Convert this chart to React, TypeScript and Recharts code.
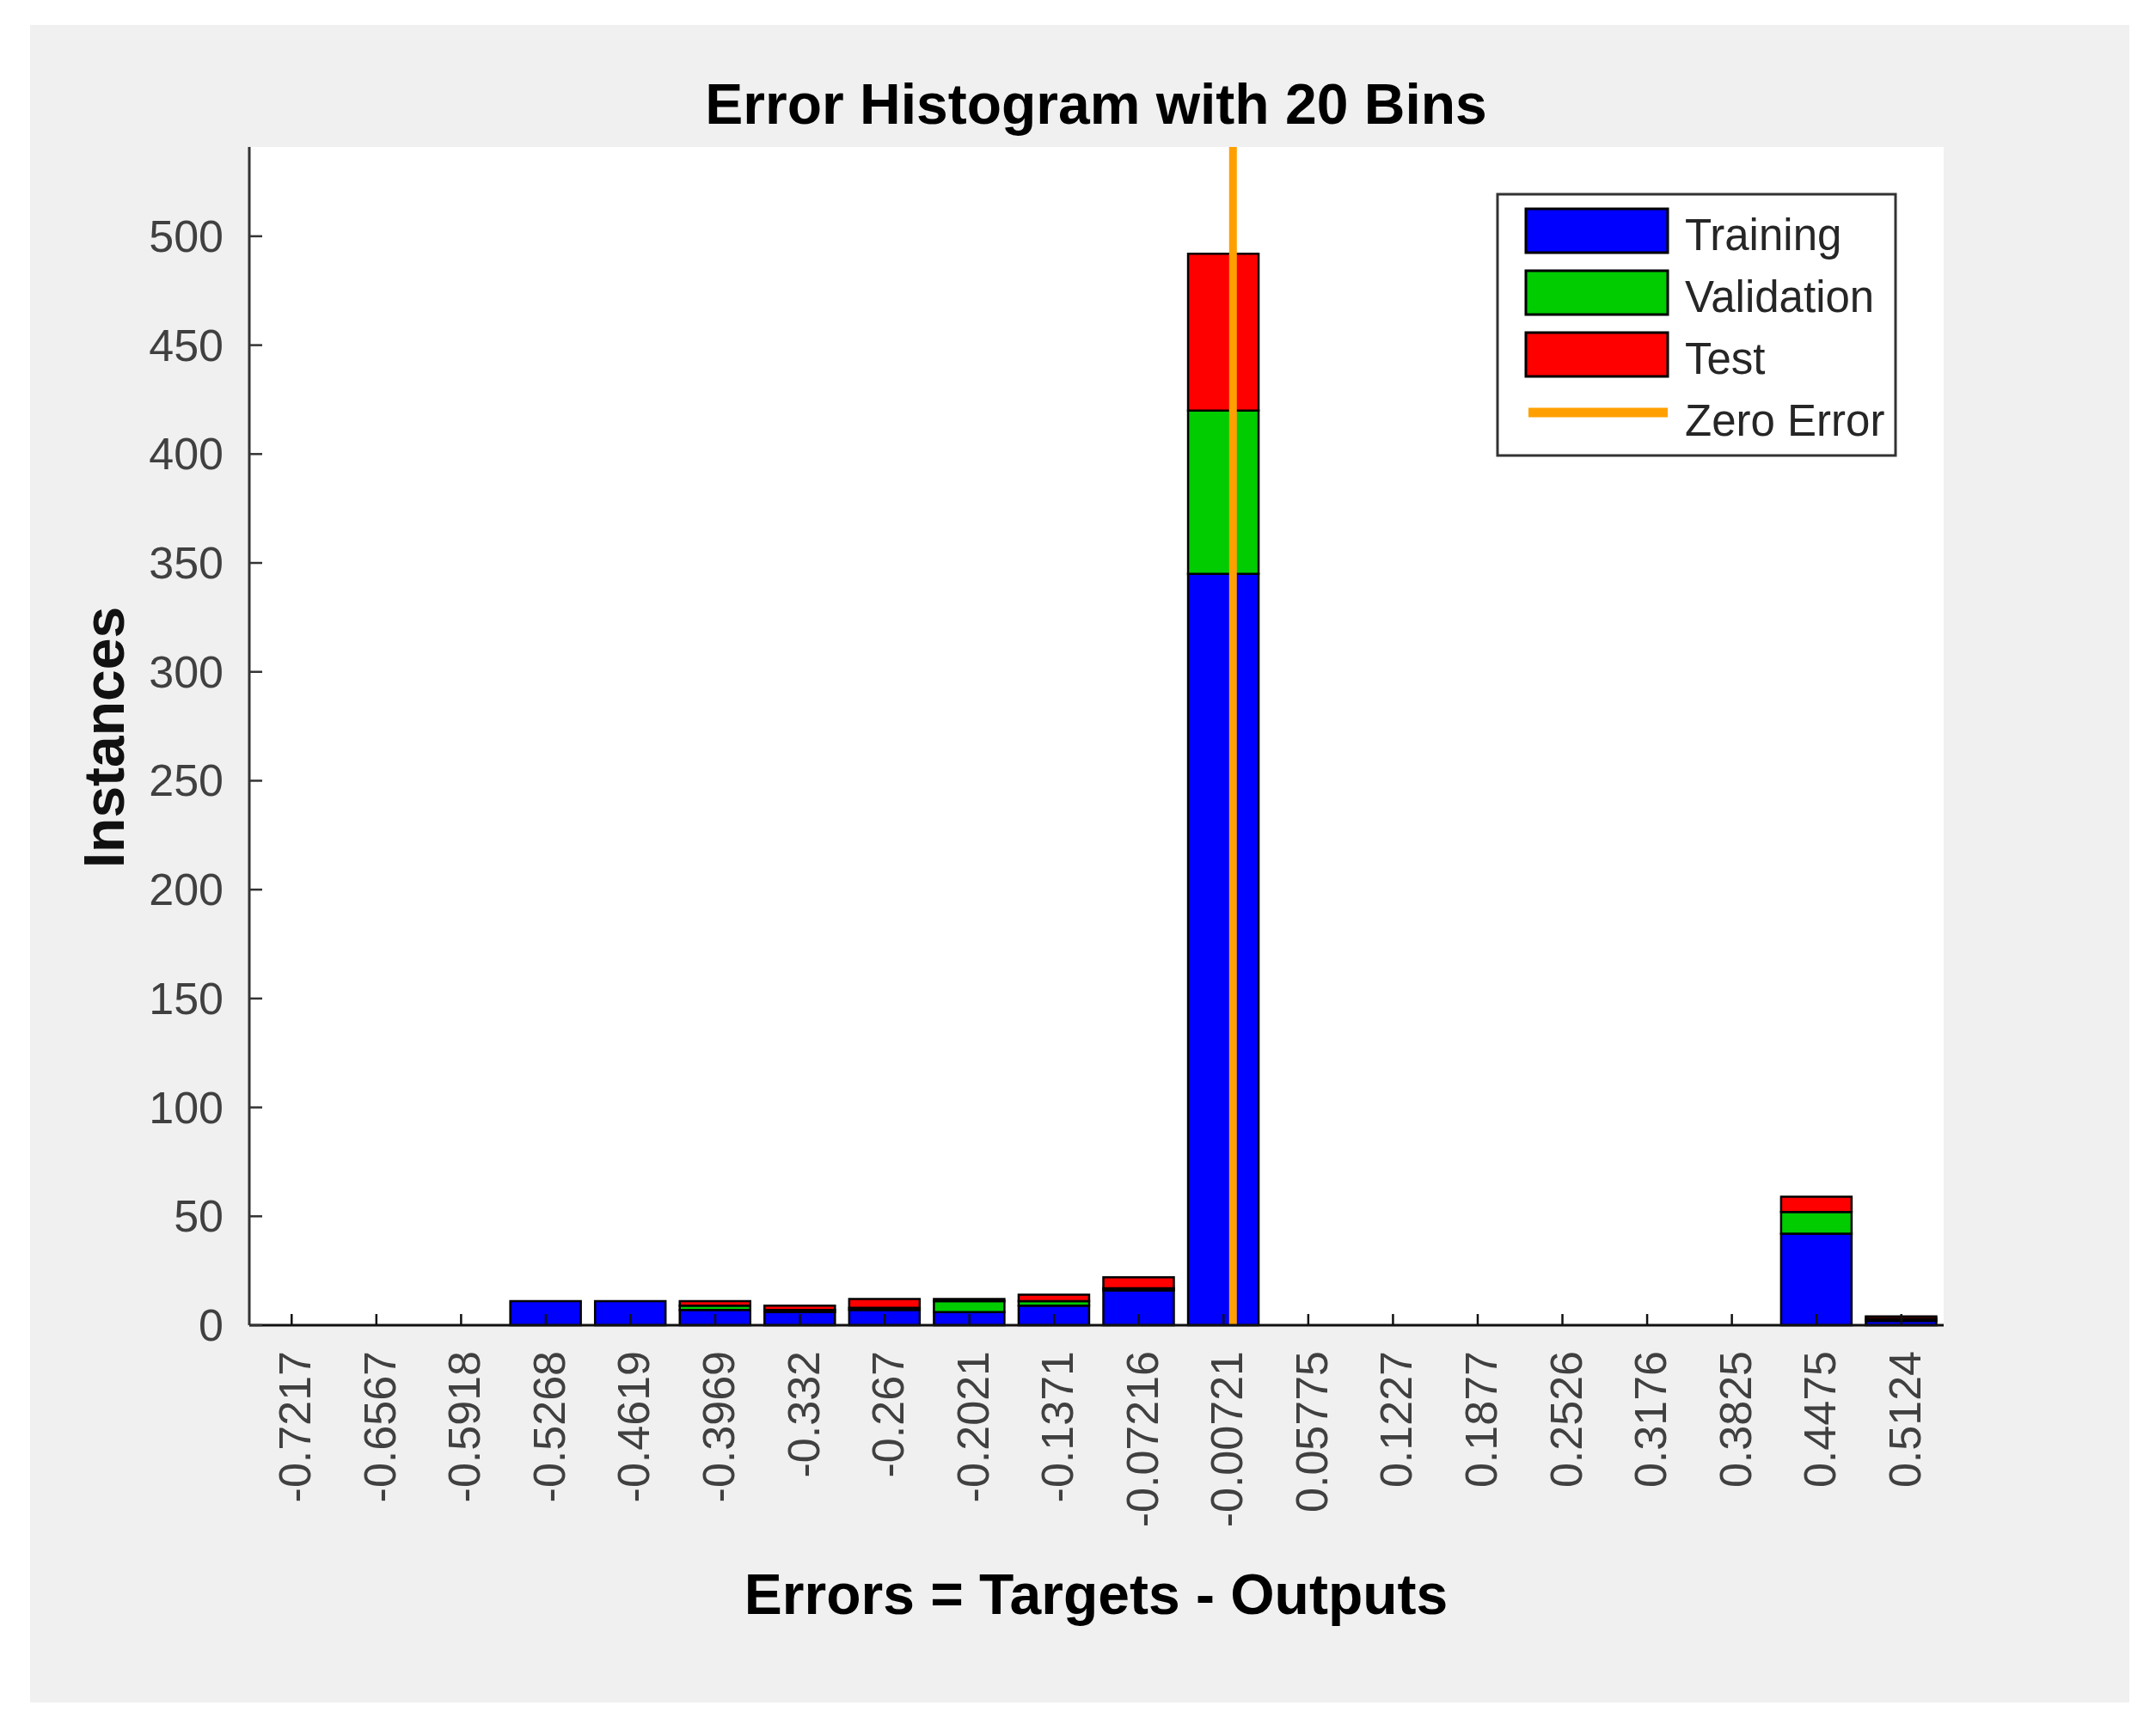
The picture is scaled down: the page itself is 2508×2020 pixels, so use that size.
import React from 'react';
import { BarChart, Bar, XAxis, YAxis, ReferenceLine } from 'recharts';

// bin centres as printed under the x axis
const BIN_LABELS = [
  '-0.7217', '-0.6567', '-0.5918', '-0.5268', '-0.4619', '-0.3969', '-0.332',
  '-0.267', '-0.2021', '-0.1371', '-0.07216', '-0.00721', '0.05775', '0.1227',
  '0.1877', '0.2526', '0.3176', '0.3825', '0.4475', '0.5124',
];

const TRAINING = [0, 0, 0, 11, 11, 7, 6, 7, 6, 9, 16, 345, 0, 0, 0, 0, 0, 0, 42, 2];
const VALIDATION = [0, 0, 0, 0, 0, 2, 1, 1, 5, 2, 1, 75, 0, 0, 0, 0, 0, 0, 10, 1];
const TEST = [0, 0, 0, 0, 0, 2, 2, 4, 1, 3, 5, 72, 0, 0, 0, 0, 0, 0, 7, 1];

const Y_TICKS = [0, 50, 100, 150, 200, 250, 300, 350, 400, 450, 500];
const Y_MAX = 541;
const ZERO_ERROR = 0;

const FONT = '"Liberation Sans", Arial, Helvetica, sans-serif';

const COLORS = {
  training: '#0000ff',
  validation: '#00cc00',
  test: '#ff0000',
  zero: '#ffa000',
};

const data = BIN_LABELS.map((label, i) => ({
  bin: label,
  center: Number(label),
  training: TRAINING[i],
  validation: VALIDATION[i],
  test: TEST[i],
}));

// numeric extent of the bins, used only to place the zero-error line
const centers = data.map(d => d.center);
const halfBin = (centers[centers.length - 1] - centers[0]) / (centers.length - 1) / 2;
const X_DOMAIN: [number, number] = [centers[0] - halfBin, centers[centers.length - 1] + halfBin];

function YTick({ x, y, payload }: any) {
  return (
    <g>
      <line x1={x} y1={y} x2={x + 15} y2={y} stroke="#333" strokeWidth={2.5} />
      <text x={x - 30} y={y} dy={18} textAnchor="end" fontSize={52} fill="#404040" fontFamily={FONT}>
        {payload.value}
      </text>
    </g>
  );
}

function XTick({ x, y, payload }: any) {
  return (
    <g>
      <line x1={x} y1={y} x2={x} y2={y - 13} stroke="#111" strokeWidth={2.5} />
      <text
        x={x + 22}
        y={y + 30}
        textAnchor="end"
        fontSize={52}
        fill="#404040"
        fontFamily={FONT}
        transform={`rotate(-90, ${x + 22}, ${y + 30})`}
      >
        {payload.value}
      </text>
    </g>
  );
}

const LEGEND_ITEMS = [
  { label: 'Training', color: COLORS.training, kind: 'box' },
  { label: 'Validation', color: COLORS.validation, kind: 'box' },
  { label: 'Test', color: COLORS.test, kind: 'box' },
  { label: 'Zero Error', color: COLORS.zero, kind: 'line' },
];

export default function App() {
  return (
    <div style={{ position: 'absolute', left: 0, top: 0, width: 2508, height: 2020, background: '#fff', fontFamily: FONT }}>
      {/* grey figure panel */}
      <div style={{ position: 'absolute', left: 35, top: 29, width: 2442, height: 1952, background: '#f0f0f0' }} />
      {/* white axes area */}
      <div style={{ position: 'absolute', left: 290, top: 171, width: 1971, height: 1371, background: '#fff' }} />

      <div style={{ position: 'absolute', left: 0, top: 0 }}>
        <BarChart
          width={2508}
          height={2020}
          data={data}
          margin={{ top: 171, right: 247, left: 140, bottom: 228 }}
          barSize={82}
        >
          <XAxis
            dataKey="bin"
            height={250}
            interval={0}
            tickSize={0}
            tickMargin={0}
            tick={<XTick />}
            axisLine={{ stroke: '#111', strokeWidth: 3 }}
            tickLine={false}
          />
          <XAxis xAxisId="zero" type="number" dataKey="center" domain={X_DOMAIN} allowDataOverflow hide />
          <YAxis
            width={150}
            domain={[0, Y_MAX]}
            ticks={Y_TICKS}
            interval={0}
            tickSize={0}
            tickMargin={0}
            tick={<YTick />}
            axisLine={{ stroke: '#333', strokeWidth: 3 }}
            tickLine={false}
          />
          <Bar dataKey="training" stackId="a" fill={COLORS.training} stroke="#000" strokeWidth={2.5} isAnimationActive={false} />
          <Bar dataKey="validation" stackId="a" fill={COLORS.validation} stroke="#000" strokeWidth={2.5} isAnimationActive={false} />
          <Bar dataKey="test" stackId="a" fill={COLORS.test} stroke="#000" strokeWidth={2.5} isAnimationActive={false} />
          <ReferenceLine xAxisId="zero" x={ZERO_ERROR} stroke={COLORS.zero} strokeWidth={9} />
        </BarChart>
      </div>

      {/* title, axis labels and legend */}
      <svg width={2508} height={2020} style={{ position: 'absolute', left: 0, top: 0, pointerEvents: 'none' }}>
        <text x={1275} y={144} textAnchor="middle" fontSize={66} fontWeight="bold" fill="#000" fontFamily={FONT}>
          Error Histogram with 20 Bins
        </text>
        <text x={1275} y={1878} textAnchor="middle" fontSize={66} fontWeight="bold" fill="#000" fontFamily={FONT}>
          Errors = Targets - Outputs
        </text>
        <text
          x={144}
          y={858}
          textAnchor="middle"
          fontSize={66}
          fontWeight="bold"
          fill="#111"
          fontFamily={FONT}
          transform="rotate(-90, 144, 858)"
        >
          Instances
        </text>

        <rect x={1742} y={226} width={463} height={304} fill="#fff" stroke="#333" strokeWidth={3} />
        {LEGEND_ITEMS.map((item, i) => {
          const top = 243 + i * 72;
          return (
            <g key={item.label}>
              {item.kind === 'box' ? (
                <rect x={1775} y={top} width={165} height={51} fill={item.color} stroke="#000" strokeWidth={3} />
              ) : (
                <line x1={1778} y1={top + 21} x2={1940} y2={top + 21} stroke={item.color} strokeWidth={11} />
              )}
              <text x={1960} y={top + 48} fontSize={51} fill="#262626" fontFamily={FONT}>
                {item.label}
              </text>
            </g>
          );
        })}
      </svg>
    </div>
  );
}
